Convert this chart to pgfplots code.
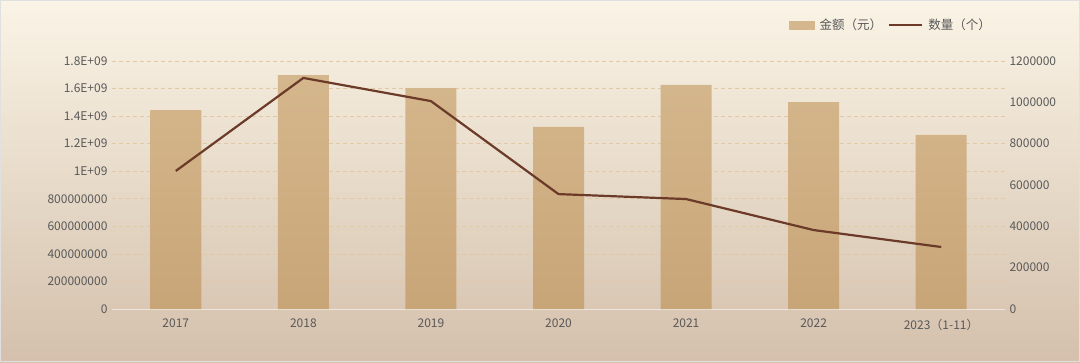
\documentclass[border=0pt]{standalone}
\usepackage{fontspec}
\setmainfont{Noto Sans CJK SC}
\usepackage{pgfplots}
\pgfplotsset{compat=1.18}
\definecolor{txt}{HTML}{595959}
\definecolor{barTop}{HTML}{D5B78D}
\definecolor{barBot}{HTML}{C8A577}
\definecolor{linec}{HTML}{6B3A28}
\definecolor{gridc}{HTML}{E2C9A4}
\definecolor{bgTop}{HTML}{FAF4E6}
\definecolor{bgBot}{HTML}{D4C0AC}
\definecolor{xlc}{HTML}{EDE6DE}
\begin{document}
\begin{tikzpicture}[x=1pt,y=1pt]
\shade[top color=bgTop, bottom color=bgBot] (-112,-53) rectangle (968,309);
\draw[color=black!12, line width=0.8pt] (-111.6,-52.6) rectangle (967.6,308.6);
\begin{axis}[
  at={(0,0)}, anchor=south west,
  scale only axis, width=893pt, height=248pt,
  xmin=-0.5, xmax=6.5, ymin=0, ymax=1.8e9,
  ybar, bar width=51pt,
  axis x line*=bottom, axis y line*=left,
  y axis line style={draw=none},
  x axis line style={draw=xlc, line width=1pt, -},
  tick style={draw=none},
  ymajorgrids, grid style={dash pattern=on 4pt off 3pt, gridc, line width=0.6pt},
  xtick={0,...,6},
  xticklabels={2017,2018,2019,2020,2021,2022,2023（1-11）},
  ytick={0,2e8,4e8,6e8,8e8,1e9,1.2e9,1.4e9,1.6e9,1.8e9},
  yticklabels={0,200000000,400000000,600000000,800000000,1E+09,1.2E+09,1.4E+09,1.6E+09,1.8E+09},
  scaled y ticks=false,
  ticklabel style={font=\fontsize{12}{14}\selectfont, text=txt},
  yticklabel style={xshift=-1pt},
  xticklabel style={yshift=-2pt},
]
\addplot[draw=none, shade, top color=barTop, bottom color=barBot] coordinates {
(0,1.444e9) (1,1.698e9) (2,1.604e9) (3,1.321e9) (4,1.626e9) (5,1.502e9) (6,1.263e9)};
\end{axis}
\begin{axis}[
  at={(0,0)}, anchor=south west,
  scale only axis, width=893pt, height=248pt,
  xmin=-0.5, xmax=6.5, ymin=0, ymax=1.2e6,
  axis y line*=right, axis x line=none,
  y axis line style={draw=none},
  tick style={draw=none},
  ytick={0,200000,400000,600000,800000,1000000,1200000},
  scaled y ticks=false,
  yticklabel style={/pgf/number format/fixed, /pgf/number format/1000 sep={}, /pgf/number format/assume math mode=true, font=\fontsize{12}{14}\selectfont, text=txt, xshift=1pt},
  legend columns=2,
  legend style={at={(0.99,1.145)}, anchor=east, draw=none, fill=none,
    font=\fontsize{12.5}{14}\selectfont, text=txt,
    /tikz/every odd column/.append style={column sep=3pt},
    /tikz/every even column/.append style={column sep=4pt}},
]
\addlegendimage{legend image code/.code={\fill[barTop] (0pt,-4pt) rectangle (25pt,4pt);}}
\addlegendentry{金额（元）}
\addplot[linec, line width=2.2pt, mark=none, legend image code/.code={\draw[linec, line width=2.2pt] (0pt,0pt) -- (33pt,0pt);}] coordinates {
(0,668000) (1,1118000) (2,1006000) (3,556000) (4,532000) (5,382000) (6,300000)};
\addlegendentry{数量（个）}
\end{axis}
\end{tikzpicture}
\end{document}
